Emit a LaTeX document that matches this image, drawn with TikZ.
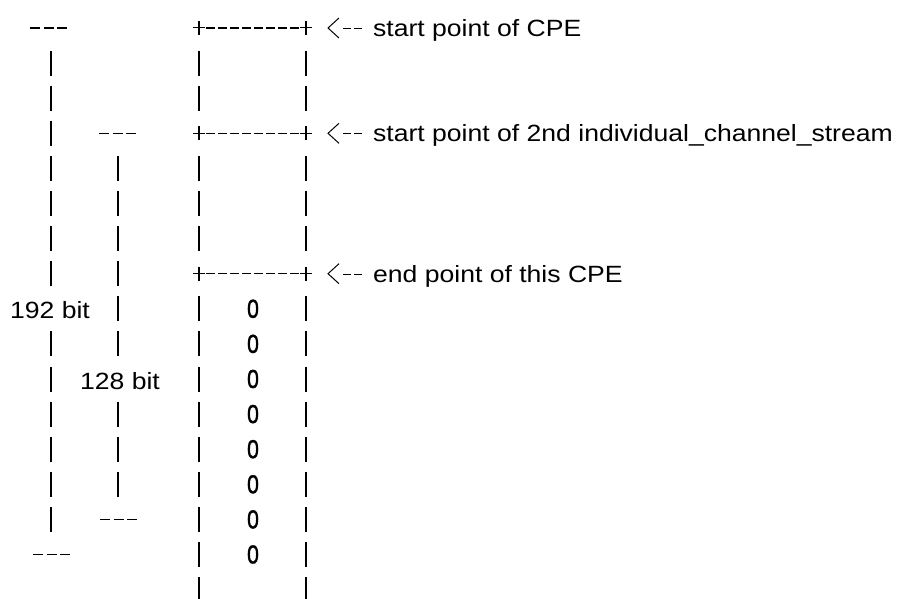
\documentclass[tikz,border=0pt]{standalone}
\usepackage{fontspec}
\setmainfont{Liberation Sans}
\newfontfamily\lab[FakeStretch=1.13]{Liberation Sans}
\newfontfamily\digit[FakeStretch=0.82,FakeBold=1.2]{Liberation Sans}
\begin{document}
\begin{tikzpicture}[x=1pt,y=-1pt,
  bar/.style={line width=1.4pt},
  dashes/.style={line width=1.3pt, dash pattern=on 10pt off 3.5pt},
  rule/.style={line width=1.2pt, dash pattern=on 9pt off 3pt},
  pointer/.style={line width=1pt},
  lbl/.style={font=\lab\fontsize{23.5}{28}\selectfont, inner sep=0pt, anchor=base west},
  size/.style={font=\lab\fontsize{23.5}{28}\selectfont, inner sep=0pt, anchor=base},
  zero/.style={font=\digit\fontsize{26}{30}\selectfont, inner sep=0pt}]
\useasboundingbox (0,0) rectangle (898,599);

% outer span (192 bit)
\draw[dashes] (30,28) -- (68,28);
\foreach \r in {1,...,7,9,10,11,12,13,14} {
  \pgfmathsetmacro\y{28+35.1*\r}
  \draw[bar] (51,\y-12.5) -- (51,\y+12.5);
}
\draw[dashes] (33,554.5) -- (72,554.5);
\node[size] (outer) at (50,318) {192 bit};

% inner span (128 bit)
\draw[dashes] (99,133.3) -- (137,133.3);
\foreach \r in {4,...,9,11,12,13} {
  \pgfmathsetmacro\y{28+35.1*\r}
  \draw[bar] (118,\y-12.5) -- (118,\y+12.5);
}
\draw[dashes] (100,519.4) -- (138,519.4);
\node[size] (inner) at (120,389) {128 bit};

% column walls
\foreach \r in {1,2,4,5,6,8,9,...,16} {
  \pgfmathsetmacro\y{28+35.1*\r}
  \draw[bar] (199,\y-12.5) -- (199,\y+12.5);
  \draw[bar] (306,\y-12.5) -- (306,\y+12.5);
}

% boundaries with pointers
\foreach \r/\t/\n in {0/{start point of CPE}/lcpe,
                      3/{start point of 2nd individual\_channel\_stream}/lics,
                      7/{end point of this CPE}/lend} {
  \pgfmathsetmacro\y{28+35.1*\r}
  \draw[rule] (206,\y) -- (300,\y);
  \draw[bar] (199,\y-7) -- (199,\y+7);
  \draw[bar] (306,\y-7) -- (306,\y+7);
  \draw[pointer] (193,\y) -- (205,\y);
  \draw[pointer] (300,\y) -- (312,\y);
  \draw[pointer] (339,\y-10) -- (328,\y) -- (339,\y+10);
  \draw[pointer, dash pattern=on 8pt off 3pt] (343,\y+0.5) -- (364,\y+0.5);
  \node[lbl] (\n) at (373,\y+8.5) {\t};
}

% padding zeros
\foreach \r in {8,...,15} {
  \pgfmathsetmacro\y{28+35.1*\r}
  \node[zero] (z\r) at (253,\y) {0};
}
\end{tikzpicture}
\end{document}
